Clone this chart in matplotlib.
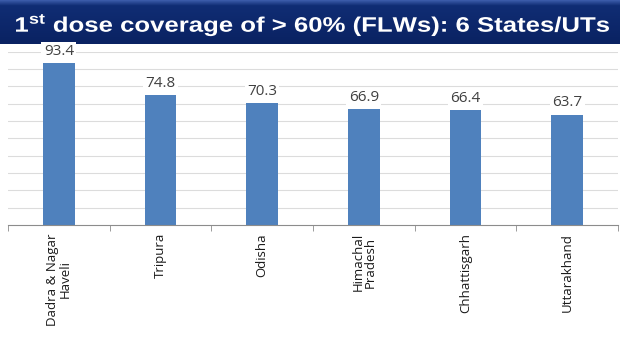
import numpy as np
import matplotlib
matplotlib.use('Agg')
import matplotlib.pyplot as plt
from matplotlib.textpath import TextPath
from matplotlib.patches import PathPatch
from matplotlib.font_manager import FontProperties
from matplotlib.transforms import Affine2D, blended_transform_factory, ScaledTranslation

states = ['Dadra & Nagar\nHaveli', 'Tripura', 'Odisha', 'Himachal\nPradesh', 'Chhattisgarh', 'Uttarakhand']
coverage = [93.4, 74.8, 70.3, 66.9, 66.4, 63.7]
title = r'1$^{\mathbf{st}}$ dose coverage of > 60% (FLWs): 6 States/UTs'

plt.rcParams['mathtext.fontset'] = 'custom'
plt.rcParams['mathtext.bf'] = 'Liberation Sans:bold'
plt.rcParams['mathtext.rm'] = 'Liberation Sans'

W, H = 624, 351
fig = plt.figure(figsize=(W / 100, H / 100), dpi=100)

# title banner (navy gradient, lighter strip on top)
bax = fig.add_axes([0, 1 - 44 / H, 620 / W, 44 / H])
grad = np.linspace(0, 1, 44)[:, None]
top = np.array([0x3a, 0x5a, 0xa8]) / 255
mid = np.array([0x10, 0x2d, 0x74]) / 255
bot = np.array([0x0a, 0x22, 0x62]) / 255
rows = np.where(grad < 0.12, top + (mid - top) * (grad / 0.12), mid + (bot - mid) * ((grad - 0.12) / 0.88))
img = np.repeat(rows[:, None, :], 2, axis=1)
bax.imshow(img, aspect='auto', extent=[0, 1, 0, 1])
bax.axis('off')

# title text as a path so it can be stretched to the banner width
tp = TextPath((0, 0), title, size=1, prop=FontProperties(family='Liberation Sans', weight='bold'))
ext = tp.get_extents()
sy = 15 / 0.716
sx = 593 / ext.width
tr = Affine2D().translate(-ext.x0, 0).scale(sx, sy).translate(16, H - 31.7)
fig.patches.append(PathPatch(tp, transform=tr, fc='white', ec='none', lw=0))

ax = fig.add_axes([8 / W, 126 / H, 610 / W, (225 - 51.7) / H])
x = np.arange(len(states))
ax.bar(x, coverage, width=0.31, color='#4f81bd', zorder=2)
ax.set_xlim(-0.5, len(states) - 0.5)
ax.set_ylim(0, 100)
ax.set_yticks(np.arange(10, 101, 10))
ax.yaxis.grid(True, color='#dcdcdc', lw=0.8)
ax.set_axisbelow(True)
ax.tick_params(axis='y', length=0, labelleft=False)
for s in ['top', 'right', 'left']:
    ax.spines[s].set_visible(False)
ax.spines['bottom'].set_color('#8c8c8c')
ax.set_xticks(x)
ax.tick_params(axis='x', length=0, labelbottom=False)
ax.set_xticks(np.arange(-0.5, len(states), 1), minor=True)
ax.tick_params(axis='x', which='minor', length=4, color='#8c8c8c')

# category labels, rotated, lines centred on each other
lab_tr = blended_transform_factory(ax.transData, ax.transAxes) + ScaledTranslation(0, -8 / 100, fig.dpi_scale_trans)
for xi, name in zip(x, states):
    ax.text(xi, 0, name, transform=lab_tr, rotation=90, ha='center', va='top', multialignment='center',
            fontsize=9.5, family='Open Sans', color='#1a1a1a', linespacing=0.9)

for xi, v in zip(x, coverage):
    ax.annotate(f'{v}', (xi, v), xytext=(0, 3), textcoords='offset points', ha='center', va='bottom',
                fontsize=11, family='Open Sans', color='#404040',
                bbox=dict(boxstyle='square,pad=0.15', fc='white', ec='none'), zorder=3)

fig.savefig('out.png', dpi=100)
